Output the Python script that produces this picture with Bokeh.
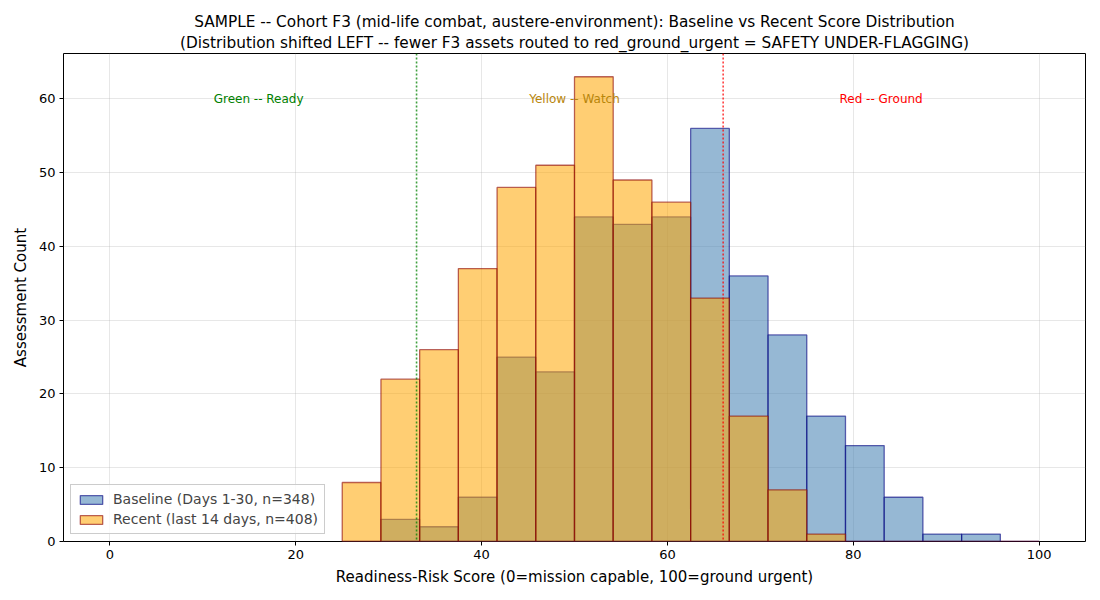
from bokeh.plotting import figure
from bokeh.models import Title, Span, Range1d, FixedTicker, ColumnDataSource, Legend, LegendItem
from bokeh.core.properties import value
from bokeh.embed import file_html
from bokeh.resources import INLINE

# Histogram bins (width 100/24), from 25 to 100
bin_width = 100 / 24
bin_left = [25 + i * bin_width for i in range(18)]
baseline_counts = [0, 3, 2, 6, 25, 23, 44, 43, 44, 56, 36, 28, 17, 13, 6, 1, 1, 0]
recent_counts = [8, 22, 26, 37, 48, 51, 63, 49, 46, 33, 17, 7, 1, 0, 0, 0, 0, 0]

zone_labels = ["Green -- Ready", "Yellow -- Watch", "Red -- Ground"]
zone_x = [16, 50, 83]
zone_y = [60, 60, 60]
zone_colors = ["green", "darkgoldenrod", "red"]
thresholds = [33, 66]
threshold_colors = ["green", "red"]

x_ticks = [0, 20, 40, 60, 80, 100]
y_ticks = [0, 10, 20, 30, 40, 50, 60]

FONT = "DejaVu Sans"

p = figure(width=1100, height=600, output_backend="svg", toolbar_location=None,
           x_range=Range1d(-5, 105), y_range=Range1d(0, 66.15),
           min_border_left=63, min_border_right=15, min_border_bottom=59, min_border_top=53)

p.title.text = ""
t2 = Title(text="(Distribution shifted LEFT -- fewer F3 assets routed to red_ground_urgent = SAFETY UNDER-FLAGGING)",
           align="center", text_font=FONT, text_font_size="15.3px", text_font_style="normal",
           text_color="black", standoff=3, offset=0)
t1 = Title(text="SAMPLE -- Cohort F3 (mid-life combat, austere-environment): Baseline vs Recent Score Distribution",
           align="center", text_font=FONT, text_font_size="15.3px", text_font_style="normal",
           text_color="black", standoff=0)
p.add_layout(t2, "above")
p.add_layout(t1, "above")

base_src = ColumnDataSource(dict(left=bin_left, right=[l + bin_width for l in bin_left],
                                 top=baseline_counts, bottom=[0] * len(bin_left)))
rec_src = ColumnDataSource(dict(left=bin_left, right=[l + bin_width for l in bin_left],
                                top=recent_counts, bottom=[0] * len(bin_left)))

r_base = p.quad(left="left", right="right", top="top", bottom="bottom", source=base_src,
                fill_color="steelblue", fill_alpha=0.57, line_color="navy", line_alpha=0.6,
                line_width=1.3)
r_rec = p.quad(left="left", right="right", top="top", bottom="bottom", source=rec_src,
               fill_color="orange", fill_alpha=0.55, line_color="darkred", line_alpha=0.6,
               line_width=1.3)

for xv, c in zip(thresholds, threshold_colors):
    p.add_layout(Span(location=xv, dimension="height", line_color=c, line_dash="2 2",
                      line_width=1.6, line_alpha=0.75))

p.text(x=zone_x, y=zone_y, text=zone_labels, text_color=zone_colors,
       text_align="center", text_baseline="middle", text_font=value(FONT), text_font_size="12px")

legend = Legend(items=[LegendItem(label="Baseline (Days 1-30, n=348)", renderers=[r_base]),
                       LegendItem(label="Recent (last 14 days, n=408)", renderers=[r_rec])],
                location="bottom_left", label_text_font=FONT, label_text_font_size="14px",
                border_line_color="#cccccc", border_line_alpha=1.0, background_fill_alpha=0.8,
                glyph_width=28, glyph_height=11, label_height=16, spacing=4, padding=6,
                margin=7, label_standoff=8)
p.add_layout(legend)

p.xaxis.ticker = FixedTicker(ticks=x_ticks)
p.yaxis.ticker = FixedTicker(ticks=y_ticks)
p.xaxis.axis_label = "Readiness-Risk Score (0=mission capable, 100=ground urgent)"
p.yaxis.axis_label = "Assessment Count"
for ax in (p.xaxis, p.yaxis):
    ax.axis_label_text_font = FONT
    ax.axis_label_text_font_size = "15px"
    ax.axis_label_text_font_style = "normal"
    ax.axis_label_text_color = "black"
    ax.major_label_text_font = FONT
    ax.major_label_text_font_size = "13px"
    ax.major_label_text_color = "black"
    ax.axis_line_color = None
    ax.major_tick_line_color = "black"
    ax.major_tick_out = 4
    ax.major_tick_in = 0
    ax.minor_tick_line_color = None
    ax.axis_label_standoff = 6
    ax.major_label_standoff = 4

p.grid.grid_line_color = "#b0b0b0"
p.grid.grid_line_alpha = 0.3
p.outline_line_color = "black"
p.outline_line_width = 1
p.outline_line_alpha = 1.0
p.background_fill_color = "white"
p.border_fill_color = "white"

open("out.html", "w").write(file_html(p, INLINE))
